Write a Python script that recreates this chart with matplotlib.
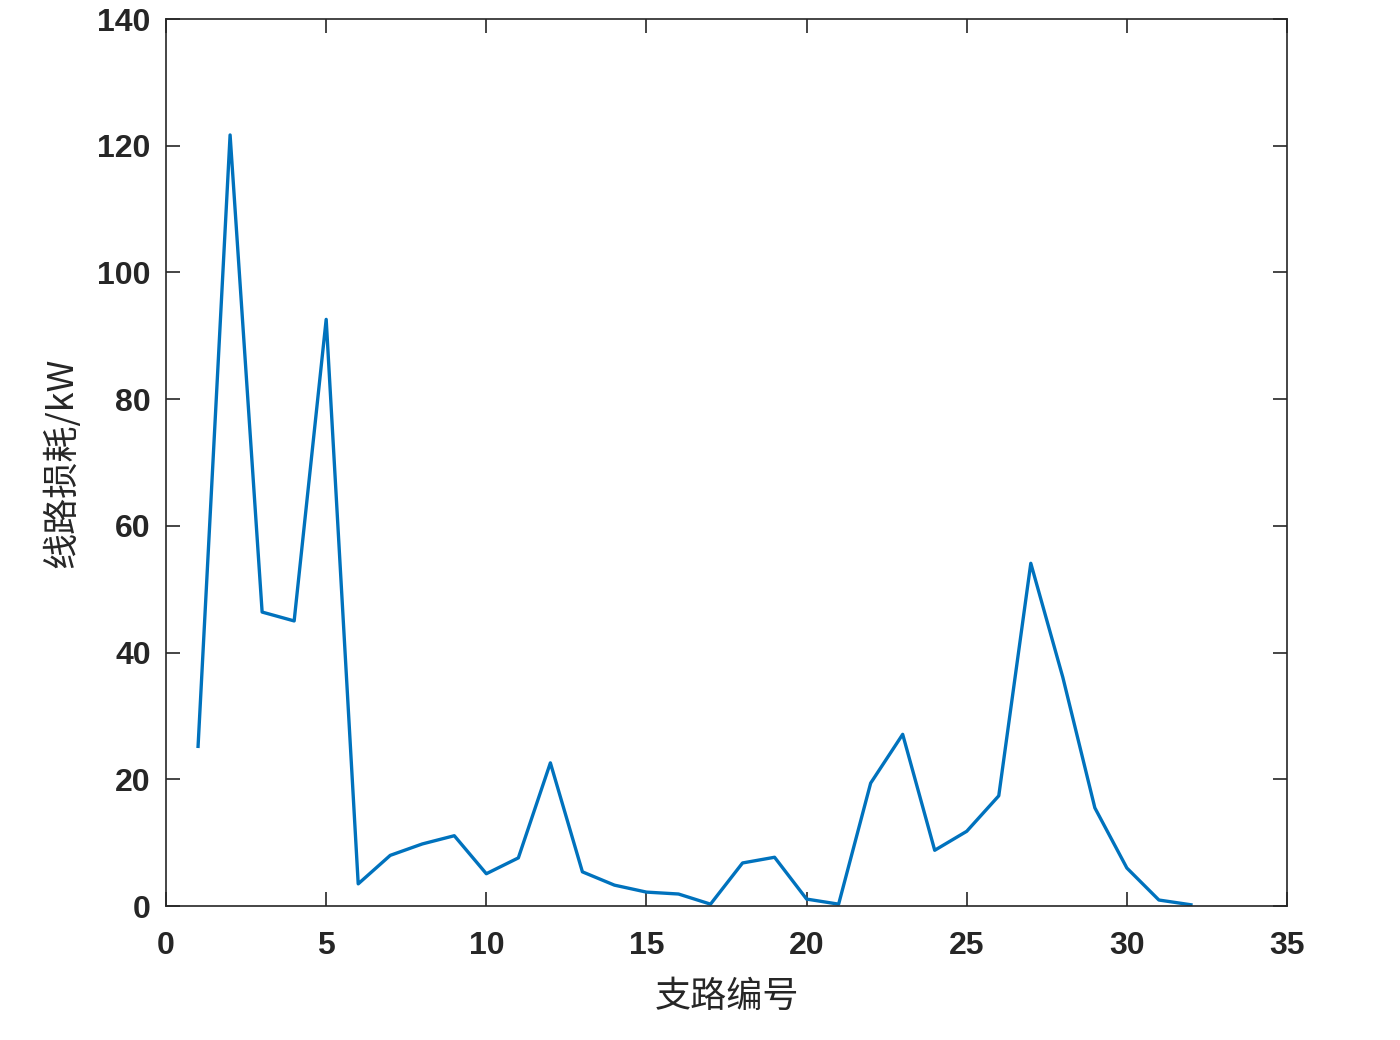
import numpy as np
import matplotlib
matplotlib.use("Agg")
import matplotlib.pyplot as plt

# 支路编号 / 线路损耗 (kW)
branch = list(range(1, 33))
loss = [25.2, 121.7, 46.4, 45.0, 92.6, 3.5, 8.0, 9.8, 11.1, 5.1,
        7.6, 22.6, 5.4, 3.3, 2.2, 1.9, 0.3, 6.8, 7.7, 1.1,
        0.3, 19.4, 27.1, 8.8, 11.8, 17.4, 54.1, 36.1, 15.5, 6.0,
        0.95, 0.2]

xticks = [0, 5, 10, 15, 20, 25, 30, 35]
yticks = [0, 20, 40, 60, 80, 100, 120, 140]

plt.rcParams['font.family'] = ['Liberation Sans', 'Noto Sans CJK SC', 'DejaVu Sans']

fig = plt.figure(figsize=(14, 10.4), dpi=100)
ax = fig.add_axes([0.1186, 0.1288, 0.8007, 0.8529])

ax.plot(branch, loss, color="#0072BD", linewidth=2.4)

ax.set_xlim(0, 35)
ax.set_ylim(0, 140)
ax.set_xticks(xticks)
ax.set_yticks(yticks)

ax.tick_params(direction="in", top=True, right=True, length=10, width=1.2,
               labelsize=23, colors="#262626")
ax.tick_params(axis="x", pad=18)
ax.tick_params(axis="y", pad=11)
for lab in ax.get_xticklabels() + ax.get_yticklabels():
    lab.set_fontweight("bold")
for s in ax.spines.values():
    s.set_color("#262626")
    s.set_linewidth(1.2)

ax.set_xlabel("支路编号", fontsize=26, family=['Noto Sans CJK SC', 'DejaVu Sans'],
              color="#262626", labelpad=13)
ax.set_ylabel("线路损耗/kW", fontsize=26, family=['Noto Sans CJK SC', 'DejaVu Sans'],
              color="#262626", labelpad=12)

fig.savefig("out.png", dpi=100)
